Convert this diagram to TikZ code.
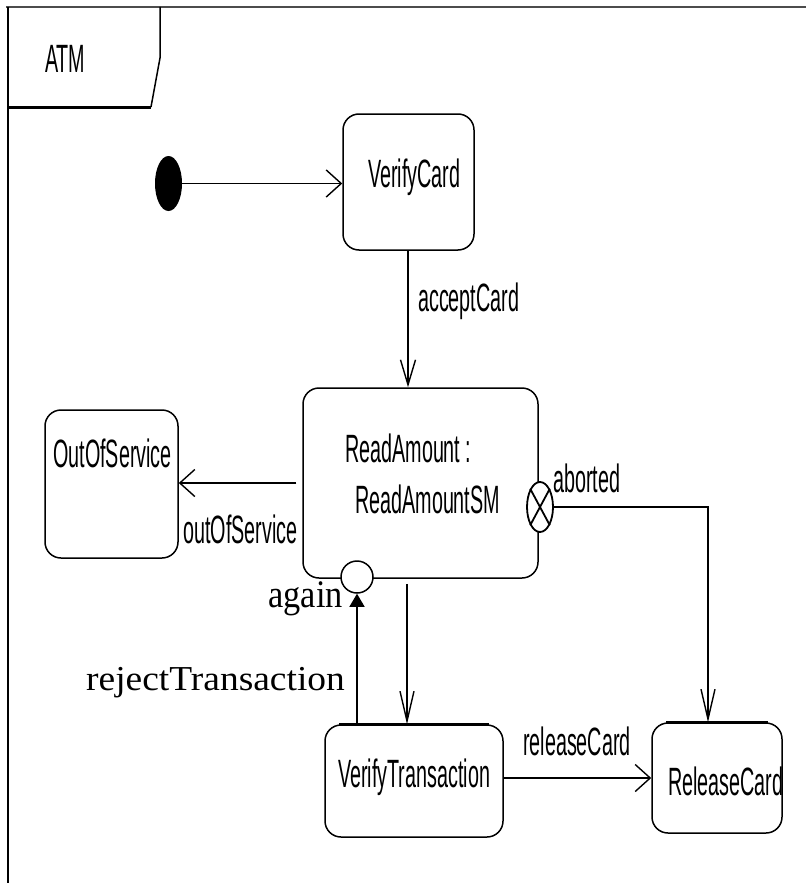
\documentclass[tikz,border=0pt]{standalone}
\usepackage{fontspec}
\usepackage{graphicx}
\setmainfont{Liberation Serif}
\setsansfont{Liberation Sans}
\usetikzlibrary{arrows.meta,shapes.geometric}
\newcommand\sx[1]{\scalebox{0.5}[1]{\sffamily\fontsize{39.5}{42}\selectfont #1}}
\begin{document}
\begin{tikzpicture}[x=1pt,y=-1pt,
  st/.style={draw, line width=1.5pt, rounded corners=16pt, inner sep=0pt},
  lbl/.style={inner sep=0pt, anchor=base west},
  con/.style={line width=1.4pt},
  openarr/.style={con, -{Straight Barb[length=15pt,width=27pt]}},
  longarr/.style={con, -{Straight Barb[length=30pt,width=14pt]}},
  midarr/.style={con, -{Straight Barb[length=25pt,width=15pt]}}]
\useasboundingbox (0,0) rectangle (806,883);
% frame
\draw[line width=2.5pt, black!70] (6,7) -- (806,7);
\draw[line width=1.5pt] (8,7) -- (8,883);
\draw[line width=1.5pt] (160,7) -- (160,58) -- (151,107);
\draw[line width=3pt] (8,107) -- (151,107);
\node[lbl] (atm) at (45,72) {\sx{ATM}};
% states
\node[ellipse, fill=black, minimum width=27pt, minimum height=55pt, inner sep=0pt] (init) at (168.5,183.5) {};
\node[st, minimum width=131pt, minimum height=136pt] (vc) at (408.5,182) {};
\node[lbl] (vcT) at (368,187) {\sx{VerifyCard}};
\node[st, minimum width=235pt, minimum height=190pt] (ra) at (420.5,483) {};
\node[lbl] (raT1) at (345,462) {\sx{ReadAmount :}};
\node[lbl] (raT2) at (355,513) {\sx{ReadAmountSM}};
\node[st, minimum width=133pt, minimum height=148pt] (oos) at (111.5,484) {};
\node[lbl] (oosT) at (53,467) {\sx{OutOfService}};
\node[st, minimum width=178pt, minimum height=112pt] (vt) at (414,781) {};
\node[lbl] (vtT) at (338,787) {\sx{VerifyTransaction}};
\node[st, minimum width=130pt, minimum height=110pt] (rc) at (717,778) {};
\node[lbl] (rcT) at (668,795) {\sx{ReleaseCard}};
\draw[line width=3.5pt] ([xshift=15pt]vt.north west) -- ([xshift=-15pt]vt.north east);
\draw[line width=3.5pt] ([xshift=15pt]rc.north west) -- ([xshift=-15pt]rc.north east);
% pseudo states
\node[ellipse, draw, fill=white, line width=1.8pt, minimum width=26pt, minimum height=50pt, inner sep=0pt] (ex) at (540,507) {};
\draw[line width=1.8pt] (ex.north west) -- (ex.south east) (ex.north east) -- (ex.south west);
\node[circle, draw, fill=white, line width=1.5pt, minimum size=32pt, inner sep=0pt] (en) at (357,577) {};
% connectors
\draw[openarr] (init.east) -- (init.east -| vc.west);
\draw[midarr] ([xshift=-0.5pt]vc.south) -- ([xshift=-0.5pt]vc.south |- ra.north);
\node[lbl] (acT) at (418,311) {\sx{acceptCard}};
\draw[openarr, shorten <=6pt] (ra.west) -- (ra.west -| oos.east);
\node[lbl] (osT) at (183,543) {\sx{outOfService}};
\coordinate (abk) at (708,507);
\draw[longarr] (ex.east) -- (abk) -- (abk |- rc.north);
\node[lbl] (abT) at (553,492) {\sx{aborted}};
\draw[longarr, shorten <=5pt] ([xshift=-13.5pt]ra.south) -- ([xshift=-13.5pt]ra.south |- vt.north);
\draw[con, -{Triangle[length=13pt,width=15pt]}] (en.south |- vt.north) -- (en.south);
\node[anchor=base east, inner sep=0pt] (agT) at (343,607) {\scalebox{0.88}[1]{\fontsize{39}{42}\selectfont again}};
\node[lbl] (rjT) at (86,690) {\scalebox{1.07}[1]{\fontsize{35}{38}\selectfont rejectTransaction}};
\draw[openarr] (vt.east |- rc.west) -- (rc.west);
\node[lbl] (rlT) at (523,755) {\sx{releaseCard}};
\end{tikzpicture}
\end{document}
